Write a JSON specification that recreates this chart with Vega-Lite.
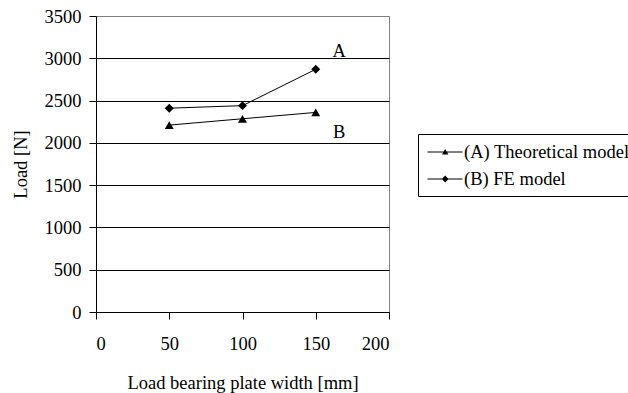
{
  "$schema": "https://vega.github.io/schema/vega-lite/v6.json",
  "autosize": {"type": "none"},
  "width": 293,
  "height": 296,
  "padding": {"left": 96, "top": 16, "right": 239, "bottom": 81},
  "background": "white",
  "config": {
    "font": "Liberation Serif",
    "view": {"stroke": "#808080", "strokeWidth": 1},
    "axis": {
      "labelFont": "Liberation Serif",
      "titleFont": "Liberation Serif",
      "labelFontSize": 18.5,
      "titleFontSize": 18.5,
      "titleFontWeight": "normal",
      "labelColor": "black",
      "titleColor": "black",
      "domainColor": "black",
      "tickColor": "black",
      "tickSize": 7
    },
    "legend": {
      "labelFont": "Liberation Serif",
      "labelFontSize": 18.5,
      "labelColor": "black"
    }
  },
  "datasets": {
    "series": [
      {"width": 50, "load": 2210, "model": "(A) Theoretical model"},
      {"width": 100, "load": 2285, "model": "(A) Theoretical model"},
      {"width": 150, "load": 2360, "model": "(A) Theoretical model"},
      {"width": 50, "load": 2410, "model": "(B) FE model"},
      {"width": 100, "load": 2440, "model": "(B) FE model"},
      {"width": 150, "load": 2870, "model": "(B) FE model"}
    ],
    "tags": [
      {"width": 166, "load": 3090, "tag": "A"},
      {"width": 166, "load": 2130, "tag": "B"}
    ]
  },
  "layer": [
    {
      "data": {"name": "series"},
      "mark": {"type": "line", "color": "black", "strokeWidth": 1},
      "encoding": {
        "x": {
          "field": "width", "type": "quantitative",
          "scale": {"domain": [0, 200], "nice": false},
          "axis": {
            "values": [0, 50, 100, 150, 200],
            "format": "d",
            "grid": false,
            "title": "Load bearing plate width [mm]",
            "labelPadding": 15,
            "titlePadding": 21
          }
        },
        "y": {
          "field": "load", "type": "quantitative",
          "scale": {"domain": [0, 3500], "nice": false},
          "axis": {
            "values": [0, 500, 1000, 1500, 2000, 2500, 3000, 3500],
            "format": "d",
            "grid": true,
            "gridColor": {"condition": {"test": "datum.value == 3500", "value": "#808080"}, "value": "black"},
            "gridOpacity": 1,
            "title": "Load [N]",
            "labelPadding": 8,
            "titlePadding": 14
          }
        },
        "detail": {"field": "model"}
      }
    },
    {
      "data": {"name": "series"},
      "transform": [{"filter": "datum.model == '(A) Theoretical model'"}],
      "mark": {"type": "point", "shape": "triangle-up", "filled": true, "color": "black", "opacity": 1, "size": 80},
      "encoding": {
        "x": {"field": "width", "type": "quantitative"},
        "y": {"field": "load", "type": "quantitative"}
      }
    },
    {
      "data": {"name": "series"},
      "transform": [{"filter": "datum.model == '(B) FE model'"}],
      "mark": {"type": "point", "shape": "diamond", "filled": true, "color": "black", "opacity": 1, "size": 80},
      "encoding": {
        "x": {"field": "width", "type": "quantitative"},
        "y": {"field": "load", "type": "quantitative"}
      }
    },
    {
      "data": {"name": "series"},
      "mark": {"type": "point", "filled": true, "color": "black", "opacity": 0},
      "encoding": {
        "x": {"field": "width", "type": "quantitative"},
        "y": {"field": "load", "type": "quantitative"},
        "shape": {
          "field": "model", "type": "nominal",
          "scale": {
            "domain": ["(A) Theoretical model", "(B) FE model"],
            "range": [
              "M-0.85,-0.05H2.65V0.05H-0.85ZM0.92,-0.3L1.24,0.26H0.6Z",
              "M-0.85,-0.05H2.65V0.05H-0.85ZM0.92,-0.34L1.26,0L0.92,0.34L0.58,0Z"
            ]
          },
          "legend": {
            "title": null,
            "orient": "none",
            "legendX": 322,
            "legendY": 118,
            "strokeColor": "black",
            "fillColor": "white",
            "padding": 7,
            "rowPadding": 6,
            "symbolSize": 400,
            "symbolOpacity": 1,
            "symbolFillColor": "black",
            "labelOffset": 17,
            "labelLimit": 400
          }
        }
      }
    },
    {
      "data": {"name": "tags"},
      "mark": {"type": "text", "font": "Liberation Serif", "fontSize": 18.5, "color": "black", "align": "center", "baseline": "middle"},
      "encoding": {
        "x": {"field": "width", "type": "quantitative"},
        "y": {"field": "load", "type": "quantitative"},
        "text": {"field": "tag"}
      }
    }
  ]
}
